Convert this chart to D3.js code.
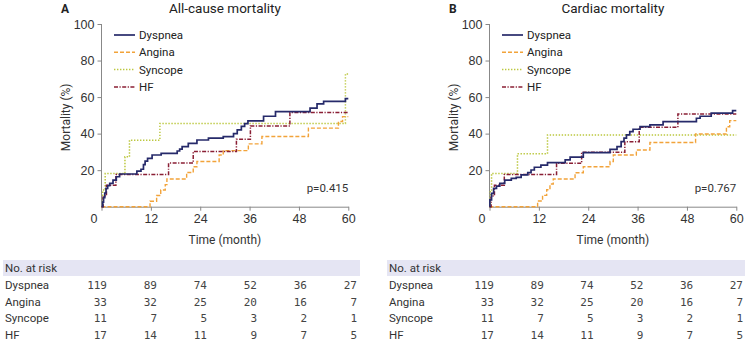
<!DOCTYPE html>
<html><head><meta charset="utf-8">
<script src="https://cdn.jsdelivr.net/npm/d3@7"></script>
<style>
body{margin:0;background:#fff;}
svg{display:block;font-family:Roboto,"Noto Sans",sans-serif;}
</style></head>
<body><svg id="c" width="748" height="344"></svg>
<script>
// ---------- data ----------
const groups = ["Dyspnea", "Angina", "Syncope", "HF"];
const timeTicks = [0, 12, 24, 36, 48, 60];
const yTicks = [20, 40, 60, 80, 100];
const panelTitles = ["All-cause mortality", "Cardiac mortality"];
const panelLetters = ["A", "B"];
const pValues = ["p=0.415", "p=0.767"];

// number at risk at 0,12,24,36,48,60 months
const riskDyspnea = [119, 89, 74, 52, 36, 27];
const riskAngina = [33, 32, 25, 20, 16, 7];
const riskSyncope = [11, 7, 5, 3, 2, 1];
const riskHF = [17, 14, 11, 9, 7, 5];

// Kaplan-Meier cumulative mortality [month, %] — all-cause
const allDyspnea = [[0,0],[0.3,2.5],[0.5,5],[0.8,7.5],[1.1,10],[1.5,11.5],[2,12.8],[2.8,14.5],[3.6,16.4],[4.4,17.9],[8.6,19.5],[9.6,20.5],[10.2,23],[10.6,25],[11.2,26.5],[12.3,28.3],[14.5,29.2],[18.4,30.5],[19,31.5],[19.6,32.9],[21.1,34.7],[23.2,36.5],[26,37.5],[29.6,38.4],[32.1,40],[33,42],[34,44],[34.8,45.5],[35.6,47],[39.4,49.5],[42.3,52],[50.7,54],[52.4,56.3],[54,57.7],[59.3,59.2],[60,59.2]];
const allAngina = [[0,0],[11.8,3],[13.4,6.1],[14.4,9.1],[15.5,12.1],[15.9,15.2],[20.7,18.7],[22.3,21.9],[23.2,24.7],[28.6,28.3],[29.6,30.7],[35.7,34.4],[39,38.4],[50.3,43],[57.6,46.6],[58.6,49.3],[60,49.3]];
const allSyncope = [[0,0],[0.3,9.1],[0.9,18.2],[5.7,27.3],[6.8,36.4],[14.2,45.5],[59.3,72.7],[60,72.7]];
const allHF = [[0,0],[0.4,5.9],[1.2,11.8],[3.5,17.6],[16.3,23.9],[22.3,30.2],[32.8,36.9],[36.2,44.2],[45.8,51.5],[60,51.5]];

// Kaplan-Meier cumulative mortality [month, %] — cardiac
const cardDyspnea = [[0,0],[0.1,3.7],[0.5,7.3],[1,10],[1.7,11.3],[2.5,12.8],[3.7,14.6],[5.3,15.5],[6.5,16.1],[7.7,17.4],[9.3,18.6],[10.1,20.1],[10.9,21.6],[12.5,22.8],[14.1,24.1],[18.4,25.6],[19.6,27.1],[22.8,29.6],[29.3,31.4],[31,32.9],[32,35.6],[32.7,37.5],[33.3,39.3],[34.1,41.1],[34.9,42.4],[36.6,43.8],[39,44.8],[42.2,46.6],[50.3,48.4],[51.2,49.5],[53.9,51.2],[59.1,52.6],[60,52.6]];
const cardAngina = [[0,0],[11.7,3.1],[12.9,6.2],[13.9,9.3],[14.7,12.4],[15.5,15.2],[20.8,18.6],[22.8,21.9],[29.3,24.7],[30.1,28.3],[35.7,31],[39,35.1],[50.1,39.8],[57.6,43.8],[58.4,47.1],[60,47.1]];
const cardSyncope = [[0,0],[0.2,9.1],[0.5,18.2],[6.8,29],[14.1,39.3],[60,39.3]];
const cardHF = [[0,0],[0.4,5.9],[1.2,11.8],[3.6,17.6],[16.3,23.8],[22.4,29.8],[32.9,35.6],[36.4,43.5],[45.8,50.8],[60,50.8]];

const panelSeries = [
  [allDyspnea, allAngina, allSyncope, allHF],
  [cardDyspnea, cardAngina, cardSyncope, cardHF]
];
const riskRows = [riskDyspnea, riskAngina, riskSyncope, riskHF];

// ---------- styles ----------
const colors = ["#262a6a", "#f2a33a", "#bcc840", "#8a1f35"];
const dashes = [null, "4,2", "1.4,1.6", "4,1.5,1.2,1.5"];
const widths = [1.7, 1.4, 1.5, 1.5];

const svg = d3.select("#c");
const txt = "#333";

function drawPanel(i, ox) {
  const x0 = ox + 101.5, x1 = ox + 348.3;
  const x = d3.scaleLinear().domain([0, 60]).range([x0, x1]);
  const y = d3.scaleLinear().domain([0, 100]).range([206.7, 24]);
  const g = svg.append("g");

  // letter and title
  g.append("text").attr("x", ox + 61).attr("y", 13).attr("font-size", 12).attr("font-weight", "bold")
    .attr("fill", "#222").text(panelLetters[i]);
  g.append("text").attr("x", (x0 + x1) / 2).attr("y", 13).attr("font-size", 13.5)
    .attr("text-anchor", "middle").attr("fill", "#222").text(panelTitles[i]);

  // y axis
  const ya = g.append("g").attr("transform", `translate(${x0},0)`)
    .call(d3.axisLeft(y).tickValues(yTicks).tickSize(4).tickPadding(3).tickSizeOuter(0));
  ya.select(".domain").attr("stroke", "#888").attr("d", `M0,${y(100)}V${y(0)}`);
  ya.selectAll(".tick line").attr("stroke", "#888");
  ya.selectAll(".tick text").attr("font-size", 12.5).attr("fill", txt).attr("font-family", "inherit");

  // x axis
  const xa = g.append("g").attr("transform", `translate(0,${y(0)})`)
    .call(d3.axisBottom(x).tickValues(timeTicks).tickSize(4).tickPadding(3).tickSizeOuter(0));
  xa.select(".domain").attr("stroke", "#888");
  xa.selectAll(".tick line").attr("stroke", "#888");
  xa.selectAll(".tick text").attr("font-size", 12.5).attr("fill", txt).attr("font-family", "inherit")
    .attr("dx", d => d === 0 ? -8 : 0);

  // axis labels
  g.append("text").attr("transform", `translate(${ox + 70},${(y(0) + y(100)) / 2 + 2}) rotate(-90)`)
    .attr("text-anchor", "middle").attr("font-size", 12).attr("fill", txt).text("Mortality (%)");
  g.append("text").attr("x", (x0 + x1) / 2).attr("y", 244).attr("text-anchor", "middle")
    .attr("font-size", 12).attr("fill", txt).text("Time (month)");

  // curves
  const line = d3.line().x(d => x(d[0])).y(d => y(d[1])).curve(d3.curveStepAfter);
  const order = [2, 1, 3, 0];
  order.forEach(k => {
    g.append("path").datum(panelSeries[i][k]).attr("d", line).attr("fill", "none")
      .attr("stroke", colors[k]).attr("stroke-width", widths[k])
      .attr("stroke-dasharray", dashes[k]);
  });

  // legend
  const lx = ox + 114;
  groups.forEach((nm, k) => {
    const ly = 35 + k * 17.3;
    g.append("line").attr("x1", lx).attr("x2", lx + 21).attr("y1", ly).attr("y2", ly)
      .attr("stroke", colors[k]).attr("stroke-width", widths[k]).attr("stroke-dasharray", dashes[k]);
    g.append("text").attr("x", lx + 25).attr("y", ly + 4).attr("font-size", 11.5).attr("fill", "#222").text(nm);
  });

  // p value
  g.append("text").attr("x", x1).attr("y", 192).attr("text-anchor", "end").attr("font-size", 11.5)
    .attr("fill", txt).text(pValues[i]);

  // risk table
  const tl = i === 0 ? 3 : 387, tr = i === 0 ? 360 : 745;
  g.append("rect").attr("x", tl).attr("y", 260).attr("width", tr - tl).attr("height", 16).attr("fill", "#e5e5f3");
  g.append("text").attr("x", tl + 2).attr("y", 272).attr("font-size", 11.5).attr("fill", txt).text("No. at risk");
  const colX = d3.scaleLinear().domain([0, 5]).range(i === 0 ? [107, 357] : [494, 743]);
  groups.forEach((nm, k) => {
    const ry = 289 + k * 16.6;
    g.append("text").attr("x", tl + 2).attr("y", ry).attr("font-size", 11.5).attr("fill", txt).text(nm);
    riskRows[k].forEach((v, j) => {
      g.append("text").attr("x", colX(j)).attr("y", ry).attr("text-anchor", "end")
        .attr("font-size", 11).attr("font-family", "'DejaVu Sans Mono',monospace").attr("fill", "#444").text(v);
    });
  });
}

drawPanel(0, 0);
drawPanel(1, 388);
</script></body></html>
